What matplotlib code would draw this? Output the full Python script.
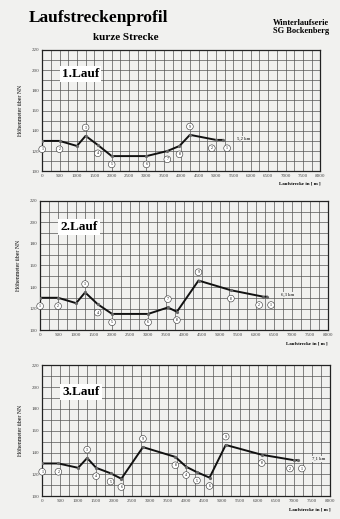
import matplotlib.pyplot as plt
import numpy as np

plt.rcParams['font.family'] = ['Liberation Serif', 'DejaVu Serif']

# Streckenprofile (Laufstrecke in m, Höhe über NN)
lauf1_x = [0, 500, 1000, 1250, 1600, 2000, 3000, 3600, 3950, 4250, 5000, 5200]
lauf1_y = [130, 130, 125, 135, 126, 115, 115, 120, 125, 136, 131, 131]
lauf1_lbl = ['1', '2', '3', '4', '5', '6', '7', '8', '9', '2', '1']
lauf1_lbl_i = [0, 1, 3, 4, 5, 6, 7, 8, 9, 10, 11]

lauf2_x = [0, 500, 1000, 1250, 1600, 2000, 3000, 3550, 3800, 4400, 5300, 6200, 6300]
lauf2_y = [130, 130, 125, 135, 124, 115, 115, 121, 117, 146, 137, 131, 131]
lauf2_lbl = ['1', '2', '3', '4', '5', '6', '7', '8', '9', '8', '2', '1']
lauf2_lbl_i = [0, 1, 3, 4, 5, 6, 7, 8, 9, 10, 11, 12]

lauf3_x = [0, 450, 1000, 1250, 1500, 1900, 2200, 2800, 3700, 4000, 4300, 4650, 5100, 6100, 7000, 7100]
lauf3_y = [130, 130, 126, 135, 126, 121, 116, 145, 136, 127, 122, 117, 147, 138, 133, 133]
lauf3_lbl = ['1', '2', '3', '4', '5', '6', '9', '8', '4', '5', '6', '9', '8', '2', '1']
lauf3_lbl_i = [0, 1, 3, 4, 5, 6, 7, 8, 9, 10, 11, 12, 13, 14, 15]

laeufe = [
    ('1.Lauf', '5,2 km', lauf1_x, lauf1_y, lauf1_lbl, lauf1_lbl_i),
    ('2.Lauf', '6,3 km', lauf2_x, lauf2_y, lauf2_lbl, lauf2_lbl_i),
    ('3.Lauf', '7,1 km', lauf3_x, lauf3_y, lauf3_lbl, lauf3_lbl_i),
]

x_ticks = np.arange(0, 8001, 500)
y_ticks = np.arange(100, 221, 20)

bg = '#f1f1ef'
fig = plt.figure(figsize=(3.4, 5.19), dpi=100, facecolor=bg)

fig.text(0.085, 0.965, 'Laufstreckenprofil', fontsize=12.5, fontweight='bold', ha='left', va='center')
fig.text(0.37, 0.928, 'kurze Strecke', fontsize=8, fontweight='bold', ha='center', va='center')
fig.text(0.885, 0.948, 'Winterlaufserie\nSG Bockenberg', fontsize=6, fontweight='bold',
         ha='center', va='center', linespacing=1.1)

positions = [
    [0.124, 0.670, 0.818, 0.234],
    [0.118, 0.364, 0.847, 0.249],
    [0.124, 0.044, 0.847, 0.252],
]

for pos, (name, km, xs, ys, lbls, lbl_i) in zip(positions, laeufe):
    ax = fig.add_axes(pos)
    ax.set_facecolor(bg)
    ax.set_xlim(0, 8000)
    ax.set_ylim(100, 220)
    ax.set_xticks(x_ticks)
    ax.set_yticks(y_ticks)
    ax.set_xticks(np.arange(0, 8001, 250), minor=True)
    ax.set_yticks(np.arange(100, 221, 10), minor=True)
    ax.grid(True, which='both', color='#555', lw=0.5)
    ax.tick_params(which='both', length=0, labelsize=3.6, pad=2, colors='#444')
    for s in ax.spines.values():
        s.set_color('#222')
        s.set_linewidth(0.9)
    ax.set_ylabel('Höhenmeter über NN', fontsize=4.2, labelpad=6)
    ax.text(1.0, -0.085, 'Laufstrecke in [ m ]', transform=ax.transAxes, fontsize=3.6,
            ha='right', va='top', fontweight='bold')

    ax.plot(xs, ys, color='#111', lw=1.4, zorder=3)
    ax.plot(xs, ys, 'o', color='#666', ms=1.3, zorder=4)

    # Nummerierte Kreise an den Wegpunkten
    for i, t in zip(lbl_i, lbls):
        prev_y = ys[i - 1] if i > 0 else ys[i]
        next_y = ys[i + 1] if i < len(ys) - 1 else ys[i]
        peak = ys[i] > prev_y and ys[i] > next_y
        dy = 6 if peak else -6
        dx = 0
        if i == len(xs) - 2:
            dx = -3
        if i == len(xs) - 1:
            dx = 3
        ax.annotate(t, (xs[i], ys[i]), xytext=(dx, dy), textcoords='offset points',
                    fontsize=2.8, ha='center', va='center', zorder=5,
                    bbox=dict(boxstyle='circle,pad=0.35', fc='white', ec='#333', lw=0.4))

    ax.annotate(km, (xs[-1], ys[-1]), xytext=(10, 1), textcoords='offset points',
                fontsize=3.4, ha='left', va='center',
                bbox=dict(boxstyle='square,pad=0.2', fc=bg, ec='none'), zorder=5)

    ax.text(0.07, 0.80, name, transform=ax.transAxes, fontsize=9.5, fontweight='bold',
            ha='left', va='center', zorder=6,
            bbox=dict(boxstyle='square,pad=0.15', fc='white', ec='none'))

fig.savefig('out.png', dpi=100, facecolor=bg)
